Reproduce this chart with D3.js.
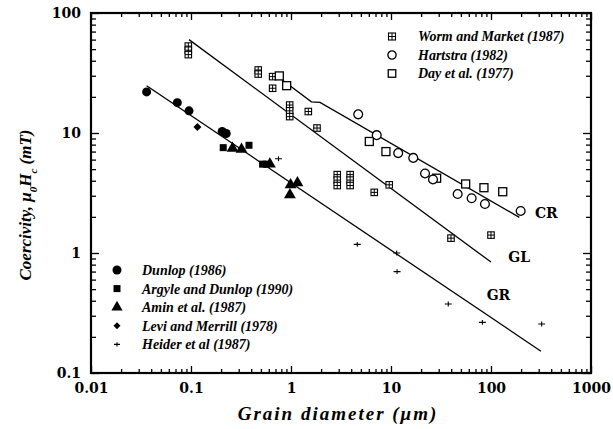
<!DOCTYPE html>
<html>
<head>
<meta charset="utf-8">
<script src="https://cdn.jsdelivr.net/npm/d3@7"></script>
<style>
    body { margin: 0; background: #fff; }
    svg { display: block; }
    .tick text { font-family: "DejaVu Serif", serif; font-weight: bold; font-size: 14px; fill: #000; }
    .legend text { font-family: "Liberation Serif", serif; font-style: italic; font-weight: bold; font-size: 14px; }
</style>
</head>
<body>
<div id="chart"></div>
<script>
// Tick labels
const xTickValues = [0.01, 0.1, 1, 10, 100, 1000];
const xTickLabels = ['0.01', '0.1', '1', '10', '100', '1000'];
const yTickValues = [0.1, 1, 10, 100];
const yTickLabels = ['0.1', '1', '10', '100'];

// Data: [grain diameter (um), coercivity (mT)]
const dunlop = [[0.036, 22], [0.073, 17.9], [0.0955, 15.3], [0.205, 10.3], [0.225, 9.9]];
const argyleDunlop = [[0.21, 7.55], [0.38, 7.9], [0.52, 5.5], [0.565, 5.5]];
const amin = [[0.26, 7.45], [0.32, 7.3], [0.615, 5.5], [0.99, 3.7], [1.16, 3.85], [0.975, 3.05]];
const leviMerrill = [[0.116, 11.2]];
const heider = [[0.75, 6.1], [4.6, 1.18], [11.4, 1.0], [11.5, 0.70], [37.4, 0.376], [82, 0.264], [321, 0.256]];
const wormMarket = [[0.094, 53], [0.094, 49], [0.094, 45], [0.47, 33.5], [0.47, 31], [0.655, 29.5], [0.655, 23.6],
    [0.97, 17.1], [0.97, 15.3], [0.97, 13.7], [1.49, 15.1], [1.82, 11], [2.9, 4.5], [2.9, 4.05], [2.9, 3.65],
    [3.9, 4.5], [3.9, 4.05], [3.9, 3.65], [6.8, 3.2], [9.6, 3.7], [39.8, 1.33], [100, 1.41]];
const hartstra = [[4.7, 14.3], [7.2, 9.6], [11.8, 6.8], [16.7, 6.2], [21.9, 4.6], [26.3, 4.1], [46.4, 3.1], [64, 2.86], [87, 2.56], [198, 2.24]];
const dayEtAl = [[0.764, 29.9], [0.905, 24.8], [6.07, 8.5], [8.9, 7.0], [28.6, 4.2], [55.8, 3.76], [85, 3.5], [131, 3.24]];

// Fitted curves
const curveCR = [[0.776, 28.6], [1.6, 18.2], [1.95, 18.0], [192, 1.98]];
const curveGL = [[0.0955, 60], [100, 0.84]];
const curveGR = [[0.036, 24.8], [316, 0.152]];
const curveLabels = [['CR', 275, 2.14], ['GL', 149, 0.93], ['GR', 90.5, 0.447]];

const legendTop = ['Worm and Market (1987)', 'Hartstra (1982)', 'Day et al. (1977)'];
const legendBottom = ['Dunlop (1986)', 'Argyle and Dunlop (1990)', 'Amin et al. (1987)', 'Levi and Merrill (1978)', 'Heider et al  (1987)'];

const width = 613, height = 429;
const svg = d3.select('#chart').append('svg')
    .attr('width', width)
    .attr('height', height);

const x = d3.scaleLog().domain([0.01, 1000]).range([91, 591]);
const y = d3.scaleLog().domain([0.1, 100]).range([373, 13]);

const isDecade = d => Math.abs(Math.log10(d) - Math.round(Math.log10(d))) < 1e-6;
const minorX = x.ticks().filter(d => !isDecade(d));
const minorY = y.ticks().filter(d => !isDecade(d));

// Axes, ticks pointing inward
const axBottom = svg.append('g').attr('transform', `translate(0,${y(0.1)})`);
axBottom.append('g').call(d3.axisBottom(x).tickValues(minorX).tickSize(-4).tickFormat(''));
axBottom.append('g').call(d3.axisBottom(x).tickValues(xTickValues).tickSize(-7).tickPadding(10)
    .tickFormat((d, i) => xTickLabels[i]));
const axTop = svg.append('g').attr('transform', `translate(0,${y(100)})`);
axTop.append('g').call(d3.axisTop(x).tickValues(minorX).tickSize(-4).tickFormat(''));
axTop.append('g').call(d3.axisTop(x).tickValues(xTickValues).tickSize(-7).tickFormat(''));
const axLeft = svg.append('g').attr('transform', `translate(${x(0.01)},0)`);
axLeft.append('g').call(d3.axisLeft(y).tickValues(minorY).tickSize(-5).tickFormat(''));
axLeft.append('g').call(d3.axisLeft(y).tickValues(yTickValues).tickSize(-8).tickPadding(10)
    .tickFormat((d, i) => yTickLabels[i]));
const axRight = svg.append('g').attr('transform', `translate(${x(1000)},0)`);
axRight.append('g').call(d3.axisRight(y).tickValues(minorY).tickSize(-5).tickFormat(''));
axRight.append('g').call(d3.axisRight(y).tickValues(yTickValues).tickSize(-8).tickFormat(''));
svg.selectAll('.domain').remove();
svg.selectAll('.tick line').attr('stroke', '#000').attr('stroke-width', 1.3);

// Frame
svg.append('rect')
    .attr('x', x(0.01)).attr('y', y(100))
    .attr('width', x(1000) - x(0.01)).attr('height', y(0.1) - y(100))
    .attr('fill', 'none').attr('stroke', '#000').attr('stroke-width', 2.2);

// Curves
const line = d3.line().x(d => x(d[0])).y(d => y(d[1]));
[curveCR, curveGL, curveGR].forEach(c => {
    svg.append('path').datum(c).attr('d', line)
        .attr('fill', 'none').attr('stroke', '#000').attr('stroke-width', 1.3);
});
svg.selectAll('text.curve-label').data(curveLabels).enter().append('text')
    .attr('class', 'curve-label')
    .attr('x', d => x(d[1])).attr('y', d => y(d[2]))
    .attr('dy', '0.35em')
    .style('font-family', '"DejaVu Serif", serif').style('font-weight', 'bold').style('font-size', '14px')
    .text(d => d[0]);

// Marker drawing
function drawMarker(g, type, s) {
    if (type === 'circle') {
        g.append('circle').attr('r', s * 0.6).attr('fill', '#000');
    } else if (type === 'square') {
        g.append('rect').attr('x', -s / 2).attr('y', -s / 2).attr('width', s).attr('height', s).attr('fill', '#000');
    } else if (type === 'triangle') {
        g.append('path').attr('d', d3.symbol(d3.symbolTriangle, s * s * 0.75)()).attr('fill', '#000');
    } else if (type === 'diamond') {
        const h = s / 2;
        g.append('path').attr('d', `M0,${-h}L${h},0L0,${h}L${-h},0Z`).attr('fill', '#000');
    } else if (type === 'cross') {
        g.append('path').attr('d', `M${-s / 2},0H${s / 2}M0,${-s * 0.35}V${s * 0.35}`)
            .attr('stroke', '#000').attr('stroke-width', 1.1);
    } else if (type === 'ocircle') {
        g.append('circle').attr('r', s * 0.55).attr('fill', '#fff').attr('stroke', '#000').attr('stroke-width', 1.3);
    } else if (type === 'osquare') {
        g.append('rect').attr('x', -s / 2).attr('y', -s / 2).attr('width', s).attr('height', s)
            .attr('fill', '#fff').attr('stroke', '#000').attr('stroke-width', 1.3);
    } else if (type === 'grid') {
        g.append('rect').attr('x', -s / 2).attr('y', -s / 2).attr('width', s).attr('height', s)
            .attr('fill', '#fff').attr('stroke', '#000').attr('stroke-width', 1.1);
        g.append('path').attr('d', `M${-s / 2},0H${s / 2}M0,${-s / 2}V${s / 2}`)
            .attr('stroke', '#000').attr('stroke-width', 1);
    }
}

const series = [
    [wormMarket, 'grid', 6.5],
    [dayEtAl, 'osquare', 8],
    [hartstra, 'ocircle', 8],
    [heider, 'cross', 7],
    [dunlop, 'circle', 7.5],
    [argyleDunlop, 'square', 7],
    [amin, 'triangle', 9],
    [leviMerrill, 'diamond', 8]
];
series.forEach(([data, type, s]) => {
    const g = svg.append('g');
    data.forEach(d => {
        drawMarker(g.append('g').attr('transform', `translate(${x(d[0])},${y(d[1])})`), type, s);
    });
});

// Legends
const legTop = svg.append('g').attr('class', 'legend');
const topTypes = [['grid', 7], ['ocircle', 7.5], ['osquare', 7.5]];
legendTop.forEach((t, i) => {
    const yy = 36.5 + i * 18.5;
    drawMarker(legTop.append('g').attr('transform', `translate(392,${yy})`), topTypes[i][0], topTypes[i][1]);
    legTop.append('text').attr('x', 418).attr('y', yy).attr('dy', '0.35em').text(t);
});
const legBot = svg.append('g').attr('class', 'legend');
const botTypes = [['circle', 7.5], ['square', 7], ['triangle', 8.5], ['diamond', 7], ['cross', 6]];
legendBottom.forEach((t, i) => {
    const yy = 270 + i * 18.6;
    drawMarker(legBot.append('g').attr('transform', `translate(117,${yy})`), botTypes[i][0], botTypes[i][1]);
    legBot.append('text').attr('x', 142).attr('y', yy).attr('dy', '0.35em').text(t);
});

// Axis titles
svg.append('text')
    .attr('x', 338).attr('y', 420)
    .attr('text-anchor', 'middle')
    .style('font-family', '"Liberation Serif", serif').style('font-style', 'italic')
    .style('font-weight', 'bold').style('font-size', '19px').style('letter-spacing', '2px')
    .text('Grain diameter (μm)');

const yt = svg.append('text')
    .attr('transform', 'translate(31,205) rotate(-90)')
    .attr('text-anchor', 'middle')
    .style('font-family', '"Liberation Serif", serif').style('font-style', 'italic')
    .style('font-weight', 'bold').style('font-size', '17px');
yt.append('tspan').text('Coercivity,  μ');
yt.append('tspan').attr('baseline-shift', 'sub').style('font-size', '11px').text('0');
yt.append('tspan').text('H');
yt.append('tspan').attr('baseline-shift', 'sub').style('font-size', '11px').text('c');
yt.append('tspan').text(' (mT)');
</script>
</body>
</html>
